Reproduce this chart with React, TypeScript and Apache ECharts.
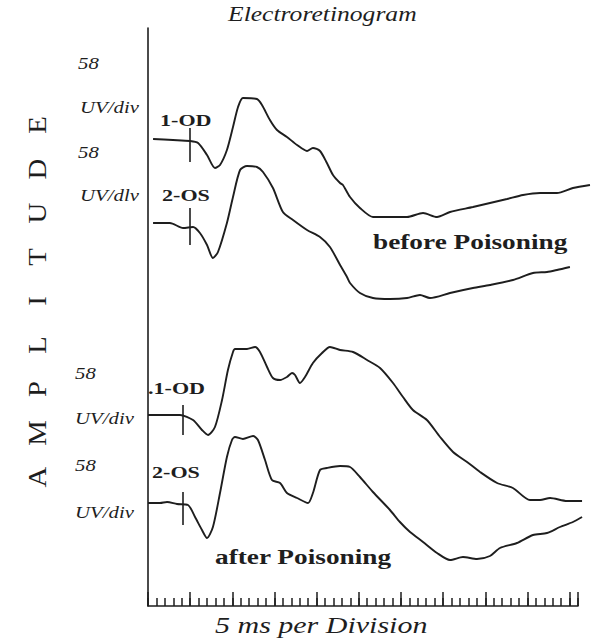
import React, { useEffect, useRef } from "react";
import * as echarts from "echarts";

// Time axis: ms (5 ms per division). Amplitude: units above the x axis,
// each trace given relative to its own baseline.
const timeOD1 = [3.0, 14.8, 24.9, 29.7, 35.0, 39.7, 42.7, 46.8, 50.4, 53.4, 56.3, 64.6, 67.6, 72.3, 76.5, 82.4, 88.4, 94.3, 97.8, 102.0, 106.1, 109.7, 113.9, 115.6, 119.8, 125.7, 133.4, 143.5, 153.6, 163.1, 171.4, 179.1, 192.7, 202.8, 212.9, 222.4, 232.5, 242.5, 252.0, 262.1];
const ampOD1 = [1, 0, -1, -3, -15, -28, -25, -10, 13, 33, 42, 41, 35, 20, 10, 3, -5, -11, -8, -11, -23, -35, -43, -45, -57, -68, -77, -77, -77, -73, -77, -72, -67, -63, -59, -55, -53, -53, -48, -45];

const timeOS2 = [3.0, 13.0, 20.8, 26.7, 30.8, 35.0, 38.5, 41.5, 46.8, 50.4, 54.6, 58.7, 64.6, 68.2, 74.1, 80.0, 86.0, 94.3, 102.0, 107.9, 113.9, 118.0, 119.8, 125.7, 133.4, 143.5, 153.6, 161.3, 167.2, 179.1, 192.7, 202.8, 216.4, 228.3, 236.6, 242.5, 250.2];
const ampOS2 = [0, 0, -5, -4, -10, -22, -35, -29, 0, 26, 53, 57, 56, 51, 35, 11, 3, -7, -14, -24, -42, -54, -60, -70, -75, -76, -75, -72, -75, -70, -65, -62, -57, -50, -49, -47, -44];

const timeOD3 = [0, 19.0, 26.7, 32.0, 35.6, 39.7, 43.9, 47.4, 50.4, 51.6, 58.7, 63.5, 66.4, 70.6, 74.1, 78.3, 82.4, 85.4, 87.2, 90.1, 93.1, 97.8, 103.2, 107.9, 113.9, 121.6, 129.9, 137.6, 145.3, 151.2, 157.1, 165.4, 173.2, 180.9, 189.2, 196.9, 207.0, 216.4, 226.5, 232.5, 238.4, 248.5, 257.4];
const ampOD3 = [0, 0, -5, -15, -20, -12, 15, 45, 63, 66, 66, 68, 63, 48, 37, 35, 38, 42, 40, 32, 38, 52, 62, 68, 65, 63, 55, 47, 32, 18, 5, -5, -22, -37, -47, -57, -68, -73, -85, -85, -83, -86, -86];

const timeOS4 = [0, 7.1, 11.3, 17.2, 23.7, 27.9, 32.0, 35.0, 38.5, 42.7, 46.8, 49.8, 51.6, 56.3, 62.3, 65.2, 69.4, 73.5, 78.3, 82.4, 88.4, 94.9, 97.8, 102.0, 106.1, 113.9, 119.8, 125.7, 133.4, 143.5, 149.4, 155.4, 163.1, 171.4, 179.1, 186.8, 195.1, 202.8, 208.7, 218.8, 228.3, 236.6, 244.3, 252.0, 257.4];
const ampOS4 = [0, 0, 1, -1, -2, -14, -27, -35, -24, 10, 46, 63, 66, 64, 67, 63, 43, 23, 20, 10, 5, 0, 10, 33, 35, 37, 36, 26, 11, -7, -19, -29, -39, -50, -57, -54, -56, -53, -45, -40, -32, -30, -24, -19, -14];

const traceTimes = [timeOD1, timeOS2, timeOD3, timeOS4];
const traceAmps = [ampOD1, ampOS2, ampOD3, ampOS4];
const traceNames = ["1-OD before", "2-OS before", "1-OD after", "2-OS after"];
const baselines = [466, 383, 191, 103];

// stimulus markers (time, extent above / below baseline)
const markerTimes = [24.9, 24.9, 20.8, 20.8];
const markerUp = [12, 15, 10, 11];
const markerDown = [-22, -22, -20, -22];

// texts
const titleText = "Electroretinogram";
const xAxisTitle = "5 ms per Division";
const yAxisLetters = ["A", "M", "P", "L", "I", "T", "U", "D", "E"];
const scaleTexts = ["58", "UV/div", "58", "UV/dlv", "58", "UV/div", "58", "UV/div"];
const traceLabels = ["1-OD", "2-OS", ".1-OD", "2-OS"];
const conditionLabels = ["before Poisoning", "after Poisoning"];

const INK = "#1e1e1e";
const SERIF = "Liberation Serif, Times New Roman, serif";
const AX_LEFT = 148;
const AX_TOP = 28;
const AX_BOTTOM = 606;
const AX_RIGHT = 578;
const T_MAX = 255;
const T_DATA_MAX = 263;
const H = AX_BOTTOM - AX_TOP;

function txt(
  text: string, x: number, y: number, size: number,
  fontStyle = "normal", fontWeight = "normal", sx = 1, align = "left", rot = 0
) {
  return {
    type: "text",
    x,
    y,
    scaleX: sx,
    rotation: rot,
    silent: true,
    style: {
      text, fill: INK, align, verticalAlign: "middle",
      fontSize: size, fontFamily: SERIF, fontStyle, fontWeight,
    },
  };
}

export default function App() {
  const ref = useRef<HTMLDivElement>(null);
  useEffect(() => {
    if (!ref.current) return;
    const chart = echarts.init(ref.current, null, { renderer: "svg" });
    const pxPerMs = (AX_RIGHT - AX_LEFT) / T_MAX;

    const series: any[] = traceTimes.map((ts, k) => ({
      name: traceNames[k],
      type: "line",
      xAxisIndex: 0,
      yAxisIndex: 0,
      data: ts.map((t, i) => [t, baselines[k] + traceAmps[k][i]]),
      showSymbol: false,
      smooth: 0.25,
      lineStyle: { color: INK, width: 1.9 },
      markLine: {
        silent: true,
        symbol: ["none", "none"],
        label: { show: false },
        lineStyle: { color: INK, width: 1.6, type: "solid" },
        data: [[
          { coord: [markerTimes[k], baselines[k] + markerUp[k]] },
          { coord: [markerTimes[k], baselines[k] + markerDown[k]] },
        ]],
      },
    }));

    const scaleY = [63, 107, 152, 195, 373, 418, 465, 512];
    const scaleX = [78, 80, 78, 80, 75, 75, 75, 75];
    const letterY0 = 477;
    const letterStep = 44;

    const graphic: any[] = [
      txt(titleText, 228, 14, 21, "italic", "normal", 1.22),
      txt(xAxisTitle, 215, 625, 24, "italic", "normal", 1.25),
      ...yAxisLetters.map((ch, i) =>
        txt(ch, 38, letterY0 - i * letterStep, 25, "normal", "normal", 1.15, "center", Math.PI / 2)
      ),
      ...scaleTexts.map((s, i) => txt(s, scaleX[i], scaleY[i], 16, "italic", "normal", 1.3)),
      txt(traceLabels[0], 160, 120, 17, "normal", "bold", 1.3),
      txt(traceLabels[1], 162, 195, 17, "normal", "bold", 1.3),
      txt(traceLabels[2], 148, 388, 17, "normal", "bold", 1.3),
      txt(traceLabels[3], 152, 472, 17, "normal", "bold", 1.3),
      txt(conditionLabels[0], 373, 242, 21, "normal", "bold", 1.3),
      txt(conditionLabels[1], 215, 557, 21, "normal", "bold", 1.3),
    ];

    chart.setOption({
      animation: false,
      backgroundColor: "#ffffff",
      grid: [
        { left: AX_LEFT, top: AX_TOP, width: T_DATA_MAX * pxPerMs, height: H },
        { left: AX_LEFT, top: AX_TOP, width: AX_RIGHT - AX_LEFT, height: H },
      ],
      xAxis: [
        { gridIndex: 0, type: "value", min: 0, max: T_DATA_MAX, show: false },
        {
          gridIndex: 1, type: "value", min: 0, max: T_MAX, interval: 25, position: "bottom",
          axisLine: { show: true, lineStyle: { color: INK, width: 1.6 } },
          axisTick: { show: true, inside: true, length: 14, lineStyle: { color: INK, width: 1.5 } },
          axisLabel: { show: false }, splitLine: { show: false },
        },
        {
          gridIndex: 1, type: "value", min: 0, max: T_MAX, interval: 5, position: "bottom",
          axisLine: { show: false },
          axisTick: { show: true, inside: true, length: 8, lineStyle: { color: INK, width: 1.5 } },
          axisLabel: { show: false }, splitLine: { show: false },
        },
      ],
      yAxis: [
        { gridIndex: 0, type: "value", min: 0, max: H, show: false },
        {
          gridIndex: 1, type: "value", min: 0, max: 1,
          axisLine: { show: true, lineStyle: { color: INK, width: 1.6 } },
          axisTick: { show: false }, axisLabel: { show: false }, splitLine: { show: false },
        },
      ],
      series,
      graphic,
    });
    return () => chart.dispose();
  }, []);
  return (
    <div
      ref={ref}
      style={{ position: "absolute", left: 0, top: 0, width: 593, height: 643 }}
    />
  );
}
